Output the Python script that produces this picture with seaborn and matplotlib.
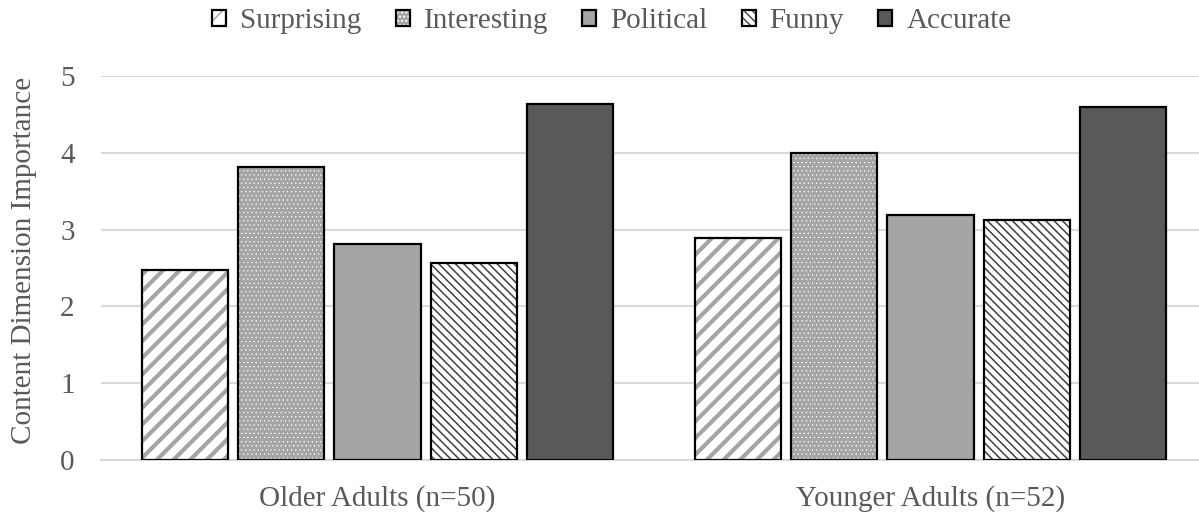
import matplotlib
matplotlib.use("Agg")
import matplotlib.pyplot as plt
from matplotlib.patches import Patch, Rectangle
from matplotlib.legend_handler import HandlerTuple
import seaborn as sns
import pandas as pd

# Mean importance ratings per content dimension
groups = ["Older Adults (n=50)", "Younger Adults (n=52)"]
dimensions = ["Surprising", "Interesting", "Political", "Funny", "Accurate"]
older = [2.48, 3.82, 2.81, 2.57, 4.64]
younger = [2.89, 4.00, 3.19, 3.12, 4.60]
y_ticks = [0, 1, 2, 3, 4, 5]

# Fill styles: face colour, hatch pattern, hatch colour, hatch line width
faces = ["#ffffff", "#a5a5a5", "#a5a5a5", "#ffffff", "#595959"]
hatches = ["//", "....", "", "\\\\\\\\", ""]
hatch_colors = ["#a5a5a5", "#ffffff", "#a5a5a5", "#404040", "#595959"]
hatch_widths = [3.0, 0.4, 1.0, 1.1, 1.0]

rows = []
for g, vals in zip(groups, [older, younger]):
    for d, v in zip(dimensions, vals):
        rows.append({"group": g, "dimension": d, "value": v})
df = pd.DataFrame(rows)

sns.set_style("white")
plt.rcParams["font.family"] = ["Liberation Serif", "DejaVu Serif"]
text_color = "#595959"
grid_color = "#d9d9d9"

fig = plt.figure(figsize=(11.99, 5.12), dpi=100)
ax = fig.add_axes([101 / 1199, 1 - 460 / 512, 1106 / 1199, 384 / 512])

sns.barplot(
    data=df, x="group", y="value", hue="dimension",
    order=groups, hue_order=dimensions, palette=faces,
    width=0.871, gap=0.107, errorbar=None, legend=False, ax=ax,
)

for i, container in enumerate(ax.containers):
    for bar in container:
        bar.set_facecolor(faces[i])
        bar.set_edgecolor(hatch_colors[i])
        bar.set_linewidth(0)
        bar.set_hatch(hatches[i])
        if hasattr(bar, "set_hatch_linewidth"):
            bar.set_hatch_linewidth(hatch_widths[i])
        ax.add_patch(Rectangle(bar.get_xy(), bar.get_width(), bar.get_height(),
                               fill=False, edgecolor="black", linewidth=1.6, zorder=3))

ax.set_xlim(-0.5, 1.5)
ax.set_ylim(0, 5)
ax.set_yticks(y_ticks)
ax.yaxis.grid(True, color=grid_color, linewidth=1.5)
ax.set_axisbelow(True)
for side in ["top", "right", "left"]:
    ax.spines[side].set_visible(False)
ax.spines["bottom"].set_color(grid_color)
ax.spines["bottom"].set_linewidth(1.5)

ax.tick_params(axis="y", length=0, pad=19, labelsize=21, labelcolor=text_color)
ax.tick_params(axis="x", length=0, pad=18, labelsize=21, labelcolor=text_color)
ax.set_xlabel("")
ax.set_ylabel("Content Dimension Importance", fontsize=21, color=text_color)
ax.yaxis.set_label_coords(-0.0575, 0.52)

handles = []
for i in range(len(dimensions)):
    h = Patch(facecolor=faces[i], edgecolor=hatch_colors[i], linewidth=0, hatch=hatches[i])
    if hasattr(h, "set_hatch_linewidth"):
        h.set_hatch_linewidth(min(hatch_widths[i], 1.5))
    o = Patch(facecolor="none", edgecolor="black", linewidth=1.6)
    handles.append((h, o))

fig.legend(handles, dimensions, loc="center", bbox_to_anchor=(612 / 1199, 1 - 21 / 512),
           ncol=5, frameon=False, fontsize=21, labelcolor=text_color,
           handler_map={tuple: HandlerTuple(ndivide=1)},
           handlelength=0.48, handleheight=0.48, handletextpad=0.48, columnspacing=1.17)

fig.savefig("out.png", dpi=100)
